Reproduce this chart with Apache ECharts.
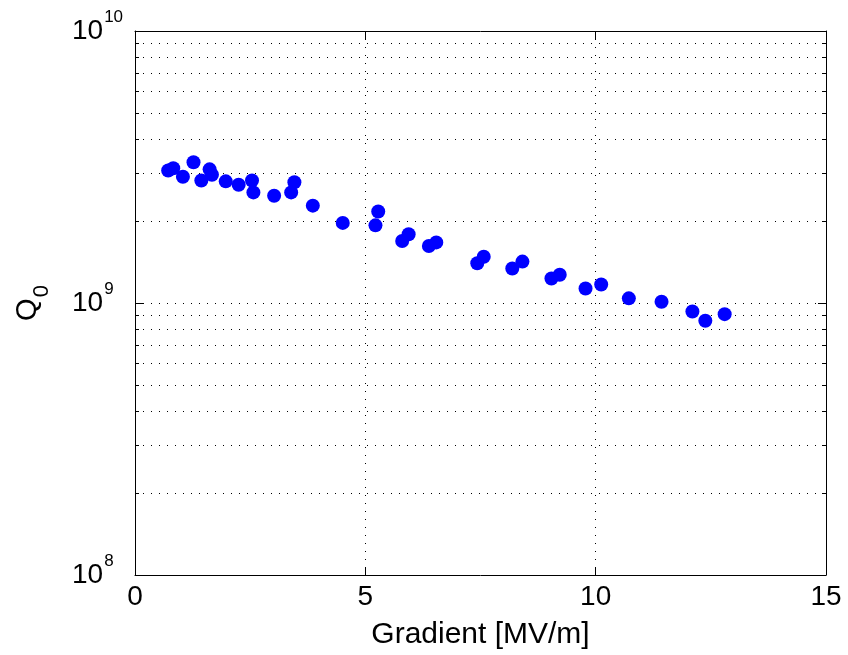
<!DOCTYPE html>
<html>
<head>
<meta charset="utf-8">
<script src="https://cdn.jsdelivr.net/npm/echarts@6/dist/echarts.min.js"></script>
<style>
  html, body { margin: 0; padding: 0; background: #ffffff; }
  #chart { width: 848px; height: 655px; }
</style>
</head>
<body>
<div id="chart"></div>
<script>
// Accelerating gradient (MV/m) and the unloaded quality factor measured at it
const gradient = [0.72, 0.83, 1.04, 1.27, 1.44, 1.62, 1.67, 1.97, 2.25, 2.54, 2.57, 3.02,
  3.39, 3.46, 3.86, 4.51, 5.22, 5.28, 5.80, 5.94, 6.38, 6.54, 7.43, 7.57, 8.19, 8.41,
  9.04, 9.22, 9.78, 10.12, 10.72, 11.43, 12.10, 12.38, 12.80];
const q0 = [3.07e9, 3.13e9, 2.91e9, 3.29e9, 2.82e9, 3.10e9, 2.96e9, 2.80e9, 2.72e9, 2.82e9,
  2.55e9, 2.48e9, 2.55e9, 2.78e9, 2.28e9, 1.97e9, 1.93e9, 2.17e9, 1.69e9, 1.79e9, 1.62e9,
  1.67e9, 1.40e9, 1.48e9, 1.34e9, 1.42e9, 1.23e9, 1.27e9, 1.13e9, 1.17e9, 1.04e9, 1.01e9,
  0.93e9, 0.86e9, 0.91e9];

// Axis ranges and tick positions
const xTickValues = [0, 5, 10, 15];
const yDecades = [1e8, 1e9, 1e10];
const yMinorValues = [2e8, 3e8, 4e8, 5e8, 6e8, 7e8, 8e8, 9e8,
  2e9, 3e9, 4e9, 5e9, 6e9, 7e9, 8e9, 9e9];

const FONT = 'Liberation Sans, Arial, Helvetica, sans-serif';
const dotted = { color: '#000', width: 1, type: [1, 7] };
const frame = { show: true, lineStyle: { color: '#000', width: 1 } };

function logAxis(position, values, tickLen, withLabels, showLine) {
  return {
    type: 'log', logBase: 10, position: position,
    min: yDecades[0], max: yDecades[yDecades.length - 1],
    axisLine: showLine ? frame : { show: false },
    axisTick: { show: true, inside: true, length: tickLen, customValues: values,
      lineStyle: { color: '#000', width: 1 } },
    axisLabel: withLabels ? {
      show: true, customValues: values, align: 'left', margin: 63,
      formatter: v => '{b|10}{s|' + Math.round(Math.log10(v)) + '}',
      rich: {
        b: { fontSize: 28, fontFamily: FONT, color: '#000', lineHeight: 28, verticalAlign: 'middle' },
        // exponent raised above the base: bottom padding makes the line taller
        s: { fontSize: 17, fontFamily: FONT, color: '#000', verticalAlign: 'top',
             padding: [0, 0, 28, 1] }
      }
    } : { show: false },
    splitLine: { show: position === 'left', lineStyle: dotted }
  };
}

const chart = echarts.init(document.getElementById('chart'), null, { renderer: 'canvas' });

const yMain = logAxis('left', yDecades, 8, true, true);
yMain.name = '{q|Q}{s|0}';
yMain.nameLocation = 'middle';
yMain.nameGap = 82;
yMain.nameTextStyle = {
  rich: {
    q: { fontSize: 29, fontFamily: FONT, color: '#000', lineHeight: 29, verticalAlign: 'top' },
    s: { fontSize: 22, fontFamily: FONT, color: '#000', verticalAlign: 'bottom', padding: [18, 0, 0, 1] }
  }
};

chart.setOption({
  animation: false,
  backgroundColor: '#ffffff',
  grid: { left: 135, top: 31, width: 691, height: 548, containLabel: false },
  xAxis: [
    {
      type: 'value', position: 'bottom', min: xTickValues[0], max: xTickValues[xTickValues.length - 1],
      interval: 5,
      axisLine: frame,
      axisTick: { show: true, inside: true, length: 8, lineStyle: { color: '#000', width: 1 } },
      axisLabel: { fontSize: 28, fontFamily: FONT, color: '#000', margin: 8 },
      splitLine: { show: true, lineStyle: dotted },
      name: 'Gradient [MV/m]', nameLocation: 'middle', nameGap: 45,
      nameTextStyle: { fontSize: 30, fontFamily: FONT, color: '#000' }
    },
    {
      type: 'value', position: 'top', min: xTickValues[0], max: xTickValues[xTickValues.length - 1],
      interval: 5,
      axisLine: frame,
      axisTick: { show: true, inside: true, length: 8, lineStyle: { color: '#000', width: 1 } },
      axisLabel: { show: false },
      splitLine: { show: false }
    }
  ],
  yAxis: [
    yMain,
    logAxis('left', yMinorValues, 4, false, false),
    logAxis('right', yDecades, 8, false, true),
    logAxis('right', yMinorValues, 4, false, false)
  ],
  series: [{
    type: 'scatter',
    xAxisIndex: 0, yAxisIndex: 0,
    data: gradient.map((g, i) => [g, q0[i]]),
    symbol: 'circle', symbolSize: 14,
    itemStyle: { color: '#0000ff', opacity: 1 },
    z: 5
  }]
});
</script>
</body>
</html>
